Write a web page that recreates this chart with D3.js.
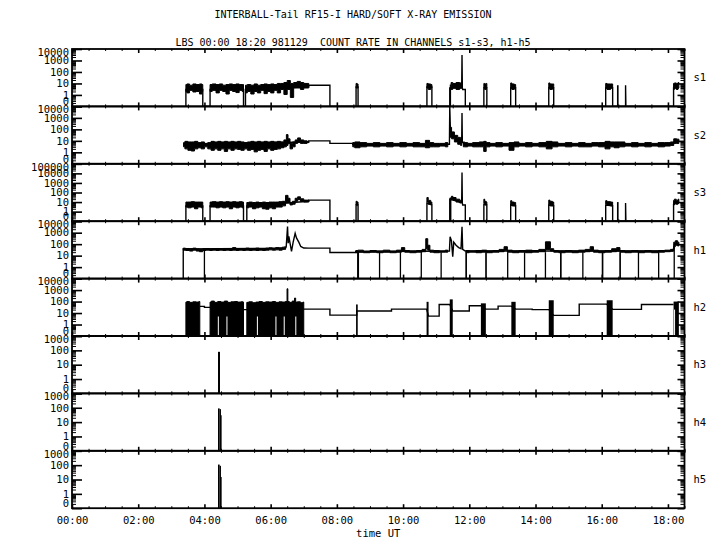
<!DOCTYPE html>
<html>
<head>
<meta charset="utf-8">
<script src="https://cdn.jsdelivr.net/npm/d3@7"></script>
<style>
  body { margin: 0; background: #fff; }
  text { font-family: "DejaVu Sans Mono", monospace; fill: #000; }
</style>
</head>
<body>
<script>
// ---- data (time in hours UT, values in counts; 0 is drawn on the bottom line) ----
var channels = ['s1', 's2', 's3', 'h1', 'h2', 'h3', 'h4', 'h5'];
var channelMax = [1e4, 1e4, 1e5, 1e4, 1e4, 1e3, 1e3, 1e3];
var hourTicks = [0, 2, 4, 6, 8, 10, 12, 14, 16, 18];

// s1
var s1Line = [[3.44,0],[3.44,3],[3.95,3],[3.95,0],[4.17,0],[4.17,3],[5.18,3],[5.18,0],[5.24,0],[5.24,3],
  [7.15,5],[7.15,7],[7.79,7],[7.79,0],[8.58,0],[8.58,5],[8.64,5],[8.64,0],[10.72,0],[10.72,5],[10.87,5],[10.87,0],
  [11.41,0],[11.41,4],[11.77,4],[11.78,3000],[11.79,4],[11.8,3],[11.88,3],[11.88,0],
  [12.44,0],[12.44,4],[12.53,4],[12.53,0],[13.25,0],[13.25,4],[13.4,4],[13.4,0],[14.4,0],[14.4,4],[14.55,4],[14.55,0],
  [16.12,0],[16.12,4],[16.33,4],[16.33,0],[16.72,0],[16.72,7],[16.73,0],[18.17,0],[18.17,4],[18.33,4]];
var s1Band = [
  [[3.44,2,8],[3.5,1.5,9],[3.6,2.5,7],[3.7,1.8,9],[3.8,2,8],[3.9,1.2,9],[3.95,2,8]],
  [[4.17,2,8],[4.3,2.5,9],[4.4,1.5,8],[4.5,2.5,9],[4.6,2,7],[4.7,1.2,8],[4.8,2.5,9],[4.9,2,8],[5.0,1.6,9],[5.1,2.5,8],[5.18,2,8]],
  [[5.24,1.5,7],[5.35,2,8],[5.45,1.2,7],[5.55,2,9],[5.65,1.5,7],[5.75,2.5,8],[5.85,1.3,9],[5.95,2,8],[6.05,1.5,9],[6.15,2.5,8],
   [6.25,1.5,10],[6.35,3,10],[6.45,1.1,12],[6.55,3,18],[6.64,0.6,10],[6.75,4,12],[6.85,4,15],[6.95,3,12],[7.05,4,10],[7.15,4,10]],
  [[8.58,4,10],[8.64,4,9]],
  [[10.72,4,10],[10.8,3,9],[10.87,4,8]],
  [[11.45,3,12],[11.55,4,10],[11.65,3,12],[11.77,4,11]],
  [[12.44,4,10],[12.49,3,9],[12.53,4,10]],
  [[13.25,4,11],[13.32,3,9],[13.4,4,8]],
  [[14.4,4,11],[14.47,3,9],[14.55,4,9]],
  [[16.12,4,10],[16.2,3,9],[16.33,4,9]],
  [[18.17,3,10],[18.22,4,11],[18.28,3,10],[18.33,4,12]]];
var s1Bars = [[11.41,11.45,8],[16.46,16.51,7]];

// s2
var s2Line = [[3.37,5],[7.15,8],[7.15,10],[7.79,10],[7.79,6],[8.48,6],[8.48,5],[11.4,5],[11.41,10000],[11.43,80],
  [11.5,40],[11.6,15],[11.7,10],[11.77,8],[11.78,2600],[11.79,8],[11.85,5],[18.15,5],[18.2,10],[18.33,10]];
var s2Band = [
  [[3.37,3,7],[3.45,2,9],[3.55,1.5,8],[3.65,1.3,8],[3.75,2,9],[3.85,2.5,7],[3.95,2,8],[4.05,3,6],[4.15,2,7],[4.25,1.5,9],
   [4.35,2,8],[4.45,1.5,9],[4.55,2,8],[4.65,1.2,9],[4.75,2,8],[4.85,1.5,9],[4.95,2,8],[5.05,1.8,9],[5.15,1.5,8],[5.25,2,7],
   [5.35,1.5,8],[5.45,1.8,9],[5.55,1.1,8],[5.65,1.5,9],[5.75,1.8,8],[5.85,1.2,9],[5.95,2,8],[6.05,1.5,9],[6.15,1.8,8],
   [6.25,2,9],[6.35,2.5,8],[6.45,3,12],[6.5,4,35],[6.55,6,15],[6.62,2,6],[6.7,3,8],[6.78,6,12],[6.85,8,18],[6.95,6,12],
   [7.05,6,10],[7.15,7,9]],
  [[8.48,3,7],[8.6,2.5,8],[8.8,3,7],[9.0,3.5,6],[9.2,3,7],[9.4,3.5,6],[9.6,3,7],[9.8,3.5,6],[10.0,3,7],[10.2,3.5,6],
   [10.4,3,7],[10.6,3,6],[10.75,2.5,11],[10.85,3,7],[11.0,3,6],[11.2,3.5,6],[11.35,3,7]],
  [[11.43,20,150],[11.5,15,60],[11.6,8,30],[11.7,5,20],[11.77,4,15]],
  [[11.82,3,8],[11.9,3,7],[12.0,3.5,6],[12.2,3,7],[12.4,3,8],[12.47,1.2,9],[12.55,3,7],[12.7,3.5,6],[12.9,3,7],
   [13.1,3.5,6],[13.3,1.5,7],[13.4,3,8],[13.6,3.5,6],[13.8,3,7],[14.0,3.5,6],[14.2,3,7],[14.45,2,9],[14.55,3,8],
   [14.8,3.5,6],[15.0,3,7],[15.2,3.5,6],[15.4,3,7],[15.6,3,6],[15.8,3.5,7],[16.0,3,7],[16.2,2,9],[16.3,3,8],
   [16.45,2.5,8],[16.6,3,8],[16.8,3.5,6],[17.0,3,7],[17.2,3.5,6],[17.4,3,7],[17.6,3.5,6],[17.8,3,7],[18.0,3.5,7],
   [18.15,4,8],[18.2,6,15],[18.33,6,14]]];
var s2Bars = [];

// s3
var s3Line = [[3.44,0],[3.44,4],[3.95,4],[3.95,0],[4.17,0],[4.17,4],[5.18,4],[5.18,0],[5.28,0],[5.28,4],[7.15,12],
  [7.15,16],[7.79,16],[7.79,0],[8.58,0],[8.58,5],[8.64,5],[8.64,0],[10.72,0],[10.72,8],[10.87,5],[10.87,0],
  [11.41,0],[11.41,20],[11.77,9],[11.78,12000],[11.79,8],[11.8,5],[11.88,5],[11.88,0],
  [12.44,0],[12.44,6],[12.53,5],[12.53,0],[13.25,0],[13.25,5],[13.4,4],[13.4,0],[14.4,0],[14.4,5],[14.55,4],[14.55,0],
  [16.12,0],[16.12,5],[16.33,4],[16.33,0],[16.72,0],[16.72,8],[16.73,0],[18.17,0],[18.17,6],[18.33,8]];
var s3Band = [
  [[3.44,3,10],[3.55,2.5,10],[3.65,3,11],[3.75,2,10],[3.85,3,10],[3.95,2.5,10]],
  [[4.17,3,10],[4.3,3,11],[4.4,2.5,10],[4.5,3,11],[4.6,2.5,10],[4.7,3,11],[4.8,2,10],[4.9,3,11],[5.0,2.5,10],[5.1,3,11],[5.18,2.5,10]],
  [[5.28,2.5,9],[5.4,3,10],[5.5,2,9],[5.6,2.5,10],[5.7,3,9],[5.8,2,10],[5.9,1.8,9],[6.0,2.5,10],[6.1,2,10],[6.2,3,10],
   [6.3,3,11],[6.4,4,12],[6.5,8,50],[6.55,8,25],[6.62,5,9],[6.7,6,12],[6.78,12,25],[6.85,18,35],[6.95,12,22],[7.05,10,16],[7.15,10,16]],
  [[8.58,5,12],[8.64,5,10]],
  [[10.72,10,30],[10.8,6,15],[10.87,5,10]],
  [[11.46,20,40],[11.55,15,30],[11.65,10,20],[11.77,8,15]],
  [[12.44,8,20],[12.49,5,12],[12.53,5,10]],
  [[13.25,5,14],[13.32,4,10],[13.4,4,9]],
  [[14.4,6,16],[14.47,4,12],[14.55,4,10]],
  [[16.12,6,14],[16.2,5,11],[16.33,4,10]],
  [[18.17,5,15],[18.22,8,20],[18.28,6,15],[18.33,8,20]]];
var s3Bars = [[11.41,11.46,30],[16.46,16.51,10]];

// h1
var h1Line = [[3.36,0],[3.36,38],[6.45,45],[6.47,60],[6.51,3500],[6.53,120],[6.55,480],[6.58,150],[6.63,23],[6.68,150],
  [6.74,870],[6.78,350],[6.85,150],[6.91,63],[7.0,46],[7.15,45],[7.79,45],[7.79,19],[8.57,19],[8.57,22],[11.4,25],
  [11.42,440],[11.46,200],[11.5,8],[11.53,150],[11.6,80],[11.68,50],[11.75,40],[11.78,3300],[11.8,35],[11.88,25],
  [18.15,25],[18.2,100],[18.33,100]];
var h1Band = [
  [[3.36,30,45],[3.5,28,42],[3.6,25,40],[3.7,30,45],[3.8,25,38],[3.9,22,35],[4.0,28,40],[4.1,30,42],[4.2,28,38],
   [4.3,30,40],[4.4,28,42],[4.5,30,38],[4.6,28,42],[4.7,30,40],[4.8,28,40],[4.9,30,50],[5.0,28,40],[5.1,30,42],
   [5.2,28,40],[5.3,30,45],[5.4,28,40],[5.5,30,42],[5.6,28,45],[5.7,30,40],[5.8,28,42],[5.9,30,45],[6.0,32,48],
   [6.1,30,45],[6.2,32,50],[6.3,30,48],[6.4,35,55],[6.45,35,60]],
  [[8.57,18,28],[8.7,20,30],[8.9,18,25],[9.1,20,28],[9.3,18,26],[9.5,20,30],[9.7,18,25],[9.9,20,30],[10.0,25,50],
   [10.1,20,28],[10.3,18,26],[10.5,20,28],[10.65,22,35],[10.72,40,300],[10.77,30,80],[10.85,20,30],[11.0,18,28],
   [11.2,20,26],[11.35,20,30]],
  [[11.9,18,28],[12.1,20,26],[12.3,18,28],[12.45,20,30],[12.6,18,26],[12.8,20,28],[13.0,22,35],[13.1,30,60],
   [13.2,20,30],[13.4,18,26],[13.6,20,28],[13.8,18,30],[14.0,20,28],[14.2,22,35],[14.4,35,160],[14.5,25,40],
   [14.6,20,28],[14.8,18,26],[15.0,20,28],[15.2,18,26],[15.4,20,30],[15.6,22,35],[15.7,25,60],[15.8,20,30],
   [16.0,18,26],[16.2,20,28],[16.4,22,40],[16.5,25,50],[16.6,20,28],[16.8,18,26],[17.0,20,28],[17.2,18,26],
   [17.4,20,28],[17.6,18,26],[17.8,20,28],[18.0,22,30],[18.15,25,35],[18.2,60,150],[18.25,80,200],[18.33,70,150]]];
var h1Bars = [[3.98,4.01,35],[8.61,8.67,20],[9.27,9.29,20],[9.9,9.92,20],[10.53,10.55,20],[11.13,11.15,20],
  [11.88,11.93,20],[12.48,12.53,20],[13.14,13.16,20],[13.65,13.67,20],[14.28,14.3,20],[14.74,14.79,20],
  [15.41,15.43,20],[16.0,16.05,20],[16.53,16.58,20],[17.09,17.11,20],[17.7,17.72,20],[18.17,18.19,60]];

// h2
var h2Line = [[3.86,38],[4.0,38],[4.0,31],[4.17,31],[5.18,20],[5.28,20],[7.0,22],[7.79,22],[7.79,6.6],[8.6,6.6],
  [8.6,15],[9.65,15],[9.65,22],[10.71,22],[10.77,5.4],[11.09,5.4],[11.09,56],[11.41,56],[11.5,15],[12.0,15],
  [12.0,43],[12.35,43],[12.5,22],[12.87,22],[12.87,40],[13.27,40],[13.4,22],[13.9,22],[13.9,20],[14.4,20],
  [14.55,6.3],[15.32,6.3],[15.32,60],[16.15,60],[16.33,21],[17.2,21],[17.2,56],[18.17,56]];
var h2Band = [
  [[3.44,0,90],[3.5,0,100],[3.6,0,85],[3.7,0,95],[3.8,0,90],[3.86,0,100]],
  [[4.17,0,90],[4.25,0,110],[4.35,0,85],[4.45,0,100],[4.55,0,90],[4.65,0,110],[4.75,0,85],[4.85,0,95],[4.95,0,100],
   [5.05,0,90],[5.15,0,95],[5.18,0,90]],
  [[5.28,0,85],[5.4,0,95],[5.5,0,80],[5.6,0,90],[5.7,0,100],[5.8,0,85],[5.9,0,95],[6.0,0,90],[6.1,0,100],[6.2,0,85],
   [6.3,0,95],[6.4,0,90],[6.48,0,100],[6.51,0,1300],[6.53,0,100],[6.6,0,85],[6.7,0,110],[6.74,0,200],[6.77,0,90],
   [6.85,0,95],[6.95,0,80],[7.0,0,90]]];
var h2Bars = [[8.58,8.63,56],[10.71,10.77,95],[11.41,11.5,155],[12.35,12.5,70],[13.27,13.4,95],[14.4,14.55,130],
  [16.15,16.33,130],[18.17,18.33,100]];
var h2Gaps = [[4.42,5],[4.68,5],[5.6,5],[6.16,5],[6.41,5],[6.76,5],[18.2,20]];

// h3 - h5
var h3Bars = [[4.41,4.47,79]];
var h4Bars = [[4.41,4.46,90],[4.46,4.48,80],[4.48,4.51,30]];
var h5Bars = [[4.41,4.46,110],[4.46,4.48,90],[4.48,4.52,15]];

var series = {
  s1: { line: s1Line, band: s1Band, bars: s1Bars },
  s2: { line: s2Line, band: s2Band, bars: s2Bars },
  s3: { line: s3Line, band: s3Band, bars: s3Bars },
  h1: { line: h1Line, band: h1Band, bars: h1Bars },
  h2: { line: h2Line, band: h2Band, bars: h2Bars, gaps: h2Gaps },
  h3: { line: [], band: [], bars: h3Bars },
  h4: { line: [], band: [], bars: h4Bars },
  h5: { line: [], band: [], bars: h5Bars }
};

// ---- layout ----
var width = 720, height = 550;
var left = 72, right = 684.5, top0 = 49, panelH = 57.4;

var svg = d3.select('body').append('svg')
  .attr('width', width)
  .attr('height', height);

var x = d3.scaleLinear().domain([0, 18.5]).range([left, right]);

var halfHours = d3.range(0, 18.51, 0.5).filter(function(d) { return d % 2 !== 0; });

// title lines
svg.append('text').attr('x', 353).attr('y', 18).attr('text-anchor', 'middle')
  .style('font-size', '10px').text('INTERBALL-Tail RF15-I HARD/SOFT X-RAY EMISSION');
svg.append('text').attr('x', 353).attr('y', 46).attr('text-anchor', 'middle')
  .style('font-size', '10px').attr('xml:space', 'preserve')
  .text('LBS 00:00 18:20 981129  COUNT RATE IN CHANNELS s1-s3, h1-h5');

channels.forEach(function(name, i) {
  var top = top0 + i * panelH, bottom = top + panelH;
  var maxV = channelMax[i];
  var y = d3.scaleLog().domain([0.1, maxV]).range([bottom, top]);
  function yv(v) { return y(Math.max(v, 0.1)); }
  var data = series[name];

  var g = svg.append('g');
  var clipId = 'clip-' + name;
  g.append('clipPath').attr('id', clipId).append('rect')
    .attr('x', left).attr('y', top).attr('width', right - left).attr('height', panelH);
  var plot = g.append('g').attr('clip-path', 'url(#' + clipId + ')');

  // solid bars (from 0 up to value)
  plot.selectAll('rect.bar').data(data.bars).enter().append('rect')
    .attr('x', function(d) { return x(d[0]); })
    .attr('width', function(d) { return Math.max(1.3, x(d[1]) - x(d[0])); })
    .attr('y', function(d) { return yv(d[2]); })
    .attr('height', function(d) { return bottom - yv(d[2]); })
    .attr('fill', '#000');

  // noisy bands
  var area = d3.area()
    .curve(d3.curveStep)
    .x(function(d) { return x(d[0]); })
    .y0(function(d) { return yv(d[1]); })
    .y1(function(d) { return yv(d[2]); });
  plot.selectAll('path.band').data(data.band).enter().append('path')
    .attr('d', area)
    .attr('fill', '#000')
    .attr('stroke', '#000')
    .attr('stroke-width', 1);

  // white gaps inside the dense blocks
  if (data.gaps) {
    plot.selectAll('line.gap').data(data.gaps).enter().append('line')
      .attr('x1', function(d) { return x(d[0]); })
      .attr('x2', function(d) { return x(d[0]); })
      .attr('y1', bottom - 1)
      .attr('y2', function(d) { return yv(d[1]); })
      .attr('stroke', '#fff')
      .attr('stroke-width', 1);
  }

  // line
  if (data.line.length) {
    plot.append('path')
      .datum(data.line)
      .attr('d', d3.line()
        .x(function(d) { return x(d[0]); })
        .y(function(d) { return yv(d[1]); }))
      .attr('fill', 'none')
      .attr('stroke', '#000')
      .attr('stroke-width', 1.4);
  }

  // log ticks
  var decades = d3.range(-1, Math.round(Math.log10(maxV)) + 1);
  var majors = decades.map(function(e) { return Math.pow(10, e); });
  var minors = [];
  decades.slice(0, -1).forEach(function(e) {
    for (var k = 2; k < 10; k++) minors.push(k * Math.pow(10, e));
  });

  function yAxis(axisFn, pos, size, values, w) {
    var a = g.append('g')
      .attr('transform', 'translate(' + pos + ',0)')
      .call(axisFn(y).tickValues(values).tickSize(size).tickSizeOuter(0).tickFormat(''));
    a.select('.domain').remove();
    a.selectAll('line').attr('stroke-width', w);
  }
  yAxis(d3.axisLeft, left, -4, minors, 1);
  yAxis(d3.axisLeft, left, -10, majors, 1.6);
  yAxis(d3.axisRight, right, -4, minors, 1);
  yAxis(d3.axisRight, right, -7, majors, 1.6);

  // time ticks, top and bottom of every panel
  function xAxis(axisFn, pos, size, values, w) {
    var a = g.append('g')
      .attr('transform', 'translate(0,' + pos + ')')
      .call(axisFn(x).tickValues(values).tickSize(size).tickSizeOuter(0).tickFormat(''));
    a.select('.domain').remove();
    a.selectAll('line').attr('stroke-width', w);
  }
  xAxis(d3.axisTop, top, -2, halfHours, 1);
  xAxis(d3.axisTop, top, -4, hourTicks, 1.6);
  xAxis(d3.axisBottom, bottom, -2, halfHours, 1);
  xAxis(d3.axisBottom, bottom, -4, hourTicks, 1.6);

  // frame
  g.append('rect')
    .attr('x', left).attr('y', top)
    .attr('width', right - left).attr('height', panelH)
    .attr('fill', 'none').attr('stroke', '#000').attr('stroke-width', 1.8);

  // y labels
  g.selectAll('text.ylab').data(majors).enter().append('text')
    .attr('x', left - 3)
    .attr('y', function(d) { return Math.min(Math.max(y(d), top + 3), bottom - 5); })
    .attr('dy', '0.36em')
    .attr('text-anchor', 'end')
    .style('font-size', '10.5px')
    .text(function(d) { return d < 1 ? '0' : d3.format('d')(d); });

  // channel name
  g.append('text')
    .attr('x', right + 9).attr('y', (top + bottom) / 2).attr('dy', '0.36em')
    .style('font-size', '10.5px')
    .text(name);

  if (i === channels.length - 1) {
    var ax = g.append('g')
      .attr('transform', 'translate(0,' + bottom + ')')
      .call(d3.axisBottom(x).tickValues(hourTicks).tickSize(0).tickPadding(8)
        .tickFormat(function(d) { return d3.format('02d')(d) + ':00'; }));
    ax.select('.domain').remove();
    ax.selectAll('text').style('font-size', '10.5px').style('font-family', '"DejaVu Sans Mono", monospace');
    g.append('text')
      .attr('x', (left + right) / 2).attr('y', bottom + 29)
      .attr('text-anchor', 'middle')
      .style('font-size', '10.5px')
      .text('time UT');
  }
});
</script>
</body>
</html>
